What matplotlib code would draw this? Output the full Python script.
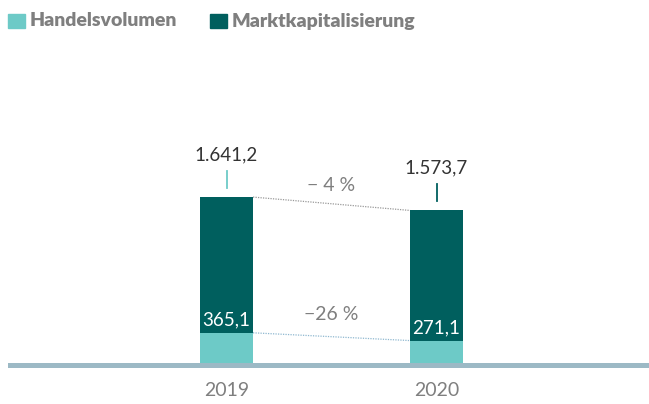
import matplotlib
matplotlib.use("Agg")
import matplotlib.pyplot as plt
from matplotlib.patches import Rectangle

# data
years = ['2019', '2020']
handelsvolumen = [365.1, 271.1]
marktkapitalisierung = [1641.2, 1573.7]
change_labels = ['\u2212 4 %', '\u221226 %']  # total, bottom

LIGHT = '#6dcac7'
DARK = '#005f5e'
GREY = '#7f7f7f'
AXIS = '#9cb9c5'

plt.rcParams['font.family'] = ['Lato', 'DejaVu Sans']

W, H = 649, 404
fig = plt.figure(figsize=(W / 100, H / 100), dpi=100)

# axes: baseline at pixel row 363, bars 210 px apart
base_px = 363
py = 0.0827          # pixels per unit
px = 210.0           # pixels per category
x0_px = 226.5
ax = fig.add_axes([0, (H - base_px) / H, 1, base_px / H])
ax.set_ylim(0, base_px / py)
ax.set_xlim(-x0_px / px, (W - x0_px) / px)
ax.axis('off')

def de(v):
    s = f'{v:,.1f}'
    return s.replace(',', 'X').replace('.', ',').replace('X', '.')

x = list(range(len(years)))
bw = 53 / px
totals = [h + m for h, m in zip(handelsvolumen, marktkapitalisierung)]

ax.bar(x, handelsvolumen, width=bw, color=LIGHT, zorder=2)
ax.bar(x, marktkapitalisierung, width=bw, bottom=handelsvolumen, color=DARK, zorder=2)

# axis band
ax.add_patch(Rectangle((-(x0_px - 8) / px, -5 / py), (W - 8) / px, 5 / py,
                       color=AXIS, clip_on=False, zorder=3, lw=0))

tick_colors = [LIGHT, DARK]
for i in x:
    top = totals[i]
    ax.plot([i, i], [top + 9 / py, top + 26 / py], color=tick_colors[i], lw=1.3)
    ax.text(i, top + 34 / py, de(marktkapitalisierung[i]), ha='center', va='bottom',
            fontsize=13.5, color='#333333')
    ax.text(i, handelsvolumen[i] + 4 / py, de(handelsvolumen[i]), ha='center',
            va='bottom', fontsize=13.5, color='white', zorder=4)
    ax.text(i, -28 / py, years[i], ha='center', va='center', fontsize=14, color=GREY)

# connectors
ax.plot([x[0] + bw / 2, x[1] - bw / 2], [totals[0], totals[1]],
        ls=(0, (1, 1)), color='#999999', lw=0.9)
ax.plot([x[0] + bw / 2, x[1] - bw / 2], [handelsvolumen[0], handelsvolumen[1]],
        ls=(0, (1, 1)), color='#8fb8d0', lw=0.9)
ax.text(0.5, (totals[0] + totals[1]) / 2 + 18 / py, change_labels[0], ha='center',
        va='center', fontsize=14, color=GREY)
ax.text(0.5, (handelsvolumen[0] + handelsvolumen[1]) / 2 + 22 / py, change_labels[1],
        ha='center', va='center', fontsize=14, color=GREY)

# legend
fig.patches.append(Rectangle((8 / W, 1 - 28 / H), 17 / W, 14 / H, color=LIGHT,
                             transform=fig.transFigure, figure=fig))
fig.text(30 / W, 1 - 21 / H, 'Handelsvolumen', ha='left', va='center',
         fontsize=14, fontweight='heavy', color=GREY)
fig.patches.append(Rectangle((210 / W, 1 - 28 / H), 17 / W, 14 / H, color=DARK,
                             transform=fig.transFigure, figure=fig))
fig.text(232 / W, 1 - 21 / H, 'Marktkapitalisierung', ha='left', va='center',
         fontsize=14, fontweight='heavy', color=GREY)

fig.savefig('out.png', dpi=100)
